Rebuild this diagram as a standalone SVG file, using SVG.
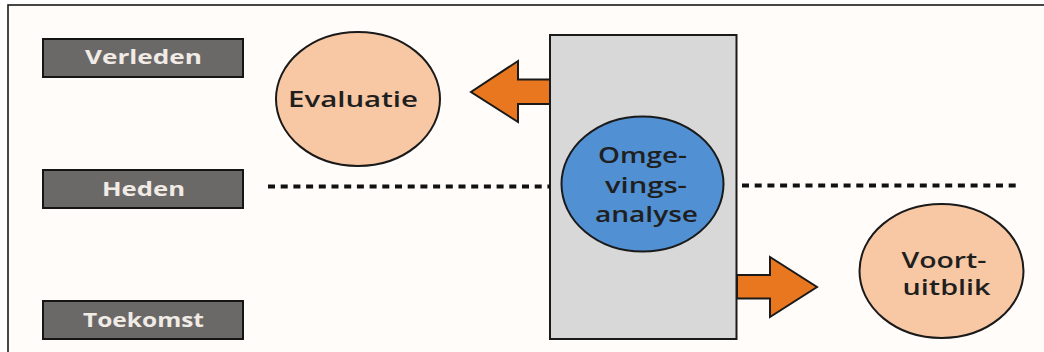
<svg xmlns="http://www.w3.org/2000/svg" width="1044" height="352" viewBox="0 0 1044 352">
  <style>
    .tl rect { fill: #6b6968; stroke: #151515; stroke-width: 2; }
    .tl text { font-family: "Open Sans", "Noto Sans", sans-serif; font-weight: bold; font-size: 19px; fill: #f1ebe6; text-anchor: middle; }
    .peach { fill: #f8c8a4; stroke: #1a1a1a; stroke-width: 2; }
    .lbl { font-family: "Open Sans", "Noto Sans", sans-serif; font-weight: 600; font-size: 21px; fill: #1f1f1f; text-anchor: middle; }
    .arrow { fill: #e8771f; stroke: #1a1a1a; stroke-width: 2; stroke-linejoin: miter; }
    .dots { stroke: #111; stroke-width: 4; stroke-dasharray: 7 5.7; fill: none; }
  </style>
  <rect x="0" y="0" width="1044" height="352" fill="#ffffff"/>
  <rect x="8" y="5" width="1040" height="352" fill="#fffcfa" stroke="#1a1a1a" stroke-width="1.6"/>

  <g id="verleden" class="tl">
    <rect x="43" y="39" width="200" height="38"/>
    <text x="143.5" y="64" textLength="117" lengthAdjust="spacingAndGlyphs">Verleden</text>
  </g>
  <g id="heden" class="tl">
    <rect x="43" y="170" width="200" height="38"/>
    <text x="143.5" y="196" textLength="83" lengthAdjust="spacingAndGlyphs">Heden</text>
  </g>
  <g id="toekomst" class="tl">
    <rect x="43" y="301" width="200" height="38"/>
    <text x="143.5" y="327" textLength="121" lengthAdjust="spacingAndGlyphs">Toekomst</text>
  </g>

  <g id="omgevingsanalyse-blok">
    <rect x="550" y="35" width="186.5" height="304" fill="#d8d8d8" stroke="#1a1a1a" stroke-width="2"/>
  </g>

  <g id="connectors">
    <line class="dots" x1="268" y1="186.5" x2="550" y2="186.5"/>
    <line class="dots" x1="742" y1="185.5" x2="1020" y2="185.5"/>
    <polygon class="arrow" points="550,79.5 518,79.5 518,61 471,92 518,122 518,104 550,104"/>
    <polygon class="arrow" points="737,275 770,275 770,257 817,287 770,317 770,298.5 737,298.5"/>
  </g>

  <g id="evaluatie">
    <ellipse class="peach" cx="358" cy="99" rx="82" ry="67"/>
    <text class="lbl" x="353" y="107" font-size="22" textLength="130" lengthAdjust="spacingAndGlyphs">Evaluatie</text>
  </g>

  <g id="omgevingsanalyse">
    <ellipse cx="642.5" cy="184" rx="81" ry="67.5" fill="#5190d2" stroke="#1a1a1a" stroke-width="2"/>
    <text class="lbl" x="642.5" y="163" font-size="23" textLength="89" lengthAdjust="spacingAndGlyphs">Omge-</text>
    <text class="lbl" x="646" y="193" font-size="23" textLength="82" lengthAdjust="spacingAndGlyphs">vings-</text>
    <text class="lbl" x="646.5" y="222" font-size="23" textLength="103" lengthAdjust="spacingAndGlyphs">analyse</text>
  </g>

  <g id="vooruitblik">
    <ellipse class="peach" cx="941.5" cy="271" rx="82" ry="67"/>
    <text class="lbl" x="944" y="268" font-size="22" textLength="85" lengthAdjust="spacingAndGlyphs">Voort-</text>
    <text class="lbl" x="946.5" y="295" font-size="22" textLength="88" lengthAdjust="spacingAndGlyphs">uitblik</text>
  </g>
</svg>
